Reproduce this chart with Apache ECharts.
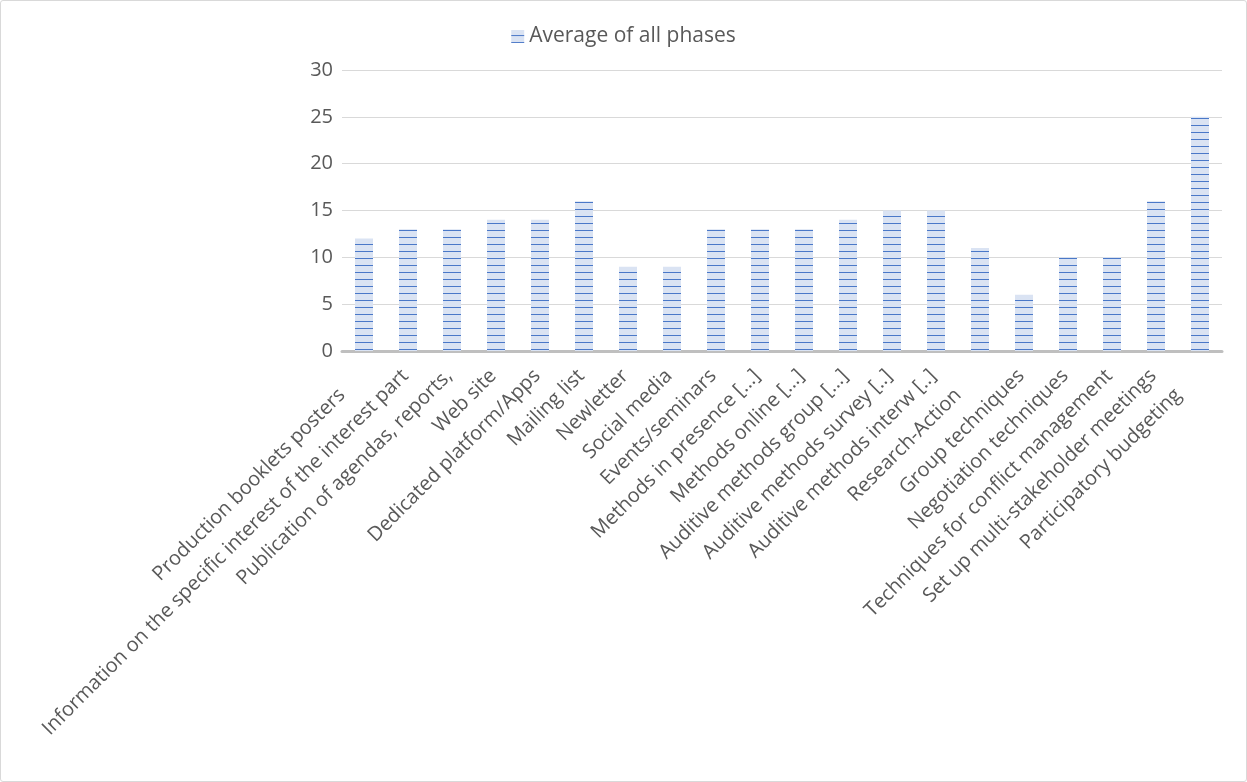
<!DOCTYPE html>
<html><head><meta charset="utf-8">
<script src="https://cdn.jsdelivr.net/npm/echarts@6/dist/echarts.min.js"></script>
<style>html,body{margin:0;padding:0;background:#fff}#c{position:absolute;left:0;top:0;width:1245px;height:780px;border:1px solid #d9d9d9;border-radius:3px}</style>
</head><body><div id="c"></div>
<script>
const categories = ["Production booklets posters","Information on the specific interest of the interest part","Publication of agendas, reports,","Web site","Dedicated platform/Apps","Mailing list","Newletter","Social media","Events/seminars","Methods in presence [...]","Methods online [...]","Auditive methods group [...]","Auditive methods survey [..]","Auditive methods interw [..]","Research-Action","Group techniques","Negotiation techniques","Techniques for conflict management","Set up multi-stakeholder meetings","Participatory budgeting"];
const averageValues = [12,13,13,14,14,16,9,9,13,13,13,14,15,15,11,6,10,10,16,25];
const yTicks = [0,5,10,15,20,25,30];
// labels that sit further from the axis in the original (trailing blank space)
const paddedLabels = ["Production booklets posters","Research-Action","Participatory budgeting"];

function makePattern(){
  const cv = document.createElement('canvas');
  cv.width = 4; cv.height = 7;
  const g = cv.getContext('2d');
  g.fillStyle = '#dae3f3'; g.fillRect(0,0,4,7);
  g.fillStyle = '#4a78c8'; g.fillRect(0,5,4,1);
  return {image: cv, repeat: 'repeat'};
}
const pat = makePattern();
const catData = categories.map(c => paddedLabels.includes(c)
  ? {value:c, textStyle:{padding:[0,31,0,0]}} : {value:c});
const chart = echarts.init(document.getElementById('c'), null, {renderer:'canvas'});
const font = '"Open Sans", sans-serif';
chart.setOption({
  animation:false,
  legend:{top:20,left:'center',itemWidth:13,itemHeight:13,itemGap:9,
    textStyle:{color:'#595959',fontSize:21,fontFamily:font},
    data:[{name:'Average of all phases',icon:'rect',itemStyle:{color:pat}}]},
  grid:{left:341,right:24,top:69,bottom:430,containLabel:false},
  xAxis:{type:'category',data:catData,
    axisLine:{lineStyle:{color:'#bfbfbf',width:3}},
    axisTick:{show:false},
    axisLabel:{interval:0,rotate:45,color:'#595959',fontSize:20,fontFamily:font,margin:19,padding:[0,4,0,0]}},
  yAxis:{type:'value',min:yTicks[0],max:yTicks[yTicks.length-1],interval:5,
    axisLine:{show:false},axisTick:{show:false},
    splitLine:{lineStyle:{color:'#d9d9d9',width:1}},
    axisLabel:{color:'#595959',fontSize:20,fontFamily:font,margin:9}},
  series:[{name:'Average of all phases',type:'bar',data:averageValues,barWidth:18,
    itemStyle:{color:pat}}]
});
</script></body></html>
